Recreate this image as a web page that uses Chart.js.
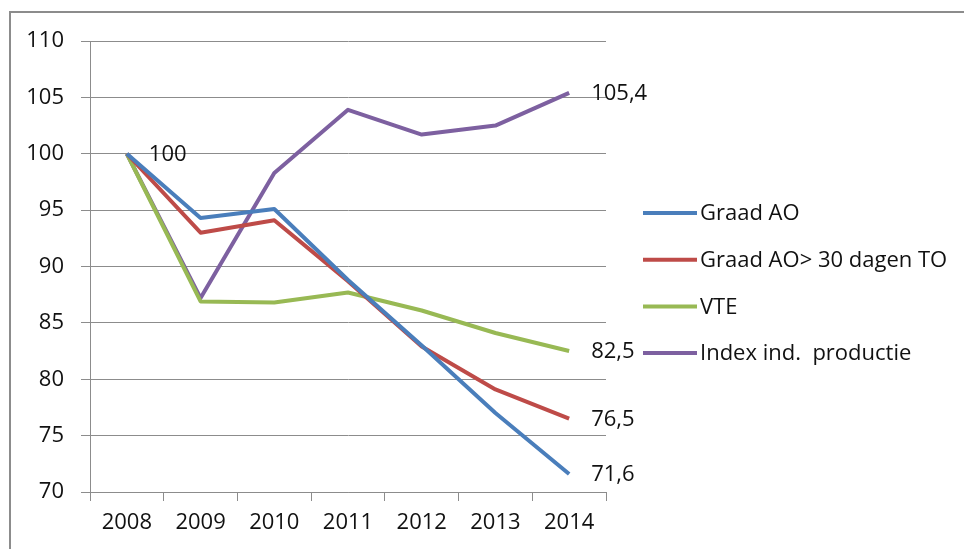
<!DOCTYPE html>
<html>
<head>
<meta charset="utf-8">
<script src="https://cdn.jsdelivr.net/npm/chart.js@4/dist/chart.umd.min.js"></script>
<style>
  html, body { margin: 0; padding: 0; background: #fff; }
  #wrap { position: relative; width: 964px; height: 549px; }
  #frame { position: absolute; left: 9px; top: 11px; right: 0; bottom: 0;
           border-top: 2px solid #8c8c8c; border-left: 2px solid #8c8c8c; }
  canvas { position: absolute; left: 0; top: 0; }
</style>
</head>
<body>
<div id="wrap">
  <div id="frame"></div>
  <canvas id="chart" width="964" height="549"></canvas>
</div>
<script>
const years = ['2008', '2009', '2010', '2011', '2012', '2013', '2014'];
const graadAO = [100, 94.3, 95.1, 88.8, 83.0, 77.0, 71.6];
const graadAO30 = [100, 93.0, 94.1, 88.7, 82.9, 79.1, 76.5];
const vte = [100, 86.9, 86.8, 87.7, 86.1, 84.1, 82.5];
const indexProductie = [100, 87.2, 98.3, 103.9, 101.7, 102.5, 105.4];
const yTicks = [70, 75, 80, 85, 90, 95, 100, 105, 110];

const FONT = '"Open Sans", "Liberation Sans", sans-serif';
const FONT_SIZE = 22;
const TEXT = '#111';
const GRID = '#8c8c8c';

// which points get a value label, per series
const series = [
  { label: 'Graad AO', data: graadAO, color: '#4a7ebb', labelAt: [0, 6] },
  { label: 'Graad AO> 30 dagen TO', data: graadAO30, color: '#be4b48', labelAt: [6] },
  { label: 'VTE', data: vte, color: '#98b954', labelAt: [6] },
  { label: 'Index ind.  productie', data: indexProductie, color: '#7d60a0', labelAt: [6] }
];

function formatNl(value) {
  return value.toLocaleString('nl-NL');
}

const valueLabels = {
  id: 'valueLabels',
  afterDatasetsDraw(chart) {
    const ctx = chart.ctx;
    ctx.save();
    ctx.font = `${FONT_SIZE}px ${FONT}`;
    ctx.fillStyle = TEXT;
    ctx.textAlign = 'left';
    ctx.textBaseline = 'middle';
    chart.data.datasets.forEach((ds, i) => {
      const meta = chart.getDatasetMeta(i);
      (ds.labelAt || []).forEach(idx => {
        const pt = meta.data[idx];
        ctx.fillText(formatNl(ds.data[idx]), pt.x + 22, pt.y + 1);
      });
    });
    ctx.restore();
  }
};

const sideLegend = {
  id: 'sideLegend',
  afterDraw(chart) {
    const ctx = chart.ctx;
    ctx.save();
    ctx.font = `${FONT_SIZE}px ${FONT}`;
    ctx.textAlign = 'left';
    ctx.textBaseline = 'middle';
    chart.data.datasets.forEach((ds, i) => {
      const y = 213 + i * 46.7;
      ctx.strokeStyle = ds.borderColor;
      ctx.lineWidth = 4;
      ctx.beginPath();
      ctx.moveTo(643, y);
      ctx.lineTo(697, y);
      ctx.stroke();
      ctx.fillStyle = TEXT;
      ctx.fillText(ds.label, 700, y + 1);
    });
    ctx.restore();
  }
};

new Chart(document.getElementById('chart'), {
  type: 'line',
  data: {
    labels: years,
    datasets: series.map(s => ({
      label: s.label,
      data: s.data,
      borderColor: s.color,
      backgroundColor: s.color,
      borderWidth: 4,
      pointRadius: 0,
      tension: 0,
      borderJoinStyle: 'round',
      labelAt: s.labelAt
    }))
  },
  options: {
    responsive: false,
    animation: false,
    layout: { padding: { left: 0, top: 41, right: 358, bottom: 0 } },
    plugins: {
      legend: { display: false },
      tooltip: { enabled: false }
    },
    scales: {
      x: {
        offset: true,
        grid: {
          offset: true,
          drawOnChartArea: false,
          drawTicks: true,
          tickLength: 9,
          color: GRID,
          lineWidth: 1
        },
        border: { color: GRID, width: 1 },
        ticks: { color: TEXT, font: { family: FONT, size: FONT_SIZE }, padding: 9, maxRotation: 0 },
        afterFit(scale) { scale.height = 57; }
      },
      y: {
        min: 70,
        max: 110,
        afterBuildTicks(scale) { scale.ticks = yTicks.map(v => ({ value: v })); },
        grid: { color: GRID, lineWidth: 1, tickLength: 9 },
        border: { color: GRID, width: 1 },
        ticks: { color: TEXT, font: { family: FONT, size: FONT_SIZE }, padding: 17 },
        afterFit(scale) { scale.width = 90; }
      }
    }
  },
  plugins: [valueLabels, sideLegend]
});
</script>
</body>
</html>
